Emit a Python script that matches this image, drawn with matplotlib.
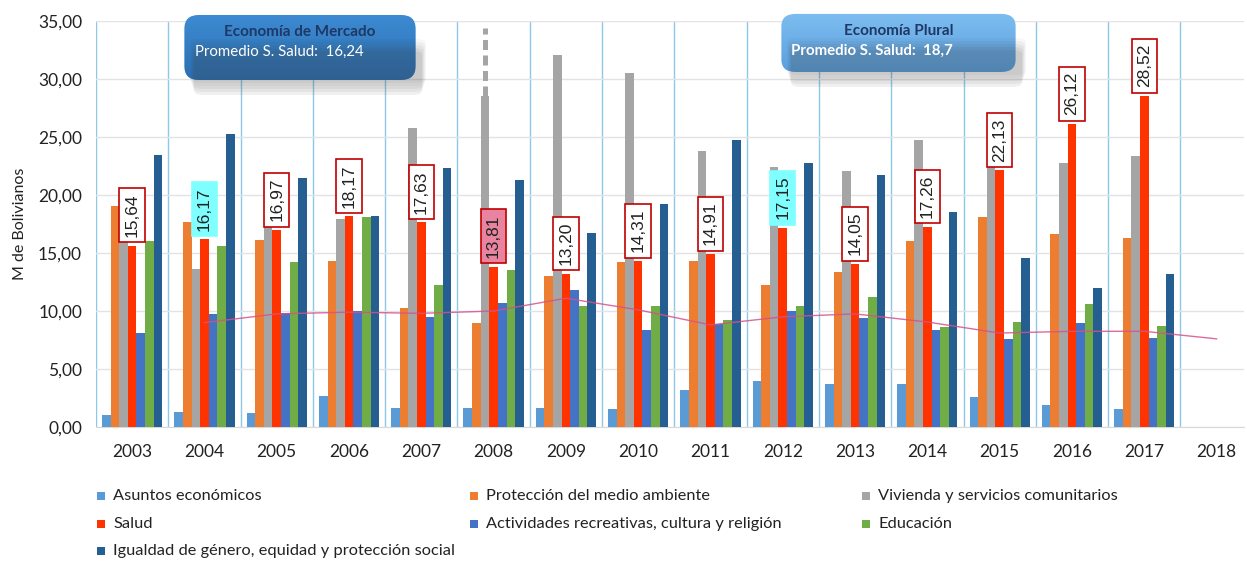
import matplotlib.pyplot as plt
import numpy as np
from matplotlib.patches import FancyBboxPatch, Rectangle
from matplotlib.ticker import FuncFormatter

# data (M de Bolivianos)
years = [str(y) for y in range(2003, 2019)]
asuntos = [1.03, 1.3, 1.2, 2.7, 1.65, 1.6, 1.6, 1.55, 3.2, 3.95, 3.7, 3.75, 2.6, 1.9, 1.55, 0]
proteccion = [19.05, 17.7, 16.1, 14.3, 10.3, 9.0, 13.0, 14.2, 14.3, 12.2, 13.4, 16.0, 18.1, 16.6, 16.3, 0]
vivienda = [16.4, 13.6, 19.7, 17.9, 25.8, 28.5, 32.1, 30.5, 23.8, 22.4, 22.1, 24.7, 24.1, 22.8, 23.4, 0]
salud = [15.64, 16.17, 16.97, 18.17, 17.63, 13.81, 13.20, 14.31, 14.91, 17.15, 14.05, 17.26, 22.13, 26.12, 28.52, 0]
recreativas = [8.1, 9.7, 9.8, 10.0, 9.5, 10.7, 11.8, 8.35, 8.9, 10.0, 9.4, 8.4, 7.6, 8.95, 7.65, 0]
educacion = [16.0, 15.6, 14.2, 18.1, 12.2, 13.5, 10.4, 10.4, 9.2, 10.4, 11.2, 8.6, 9.05, 10.6, 8.7, 0]
igualdad = [23.45, 25.3, 21.5, 18.2, 22.3, 21.3, 16.7, 19.2, 24.7, 22.8, 21.7, 18.55, 14.6, 12.0, 13.2, 0]
tendencia = [np.nan, 9.0, 9.75, 9.9, 9.8, 10.0, 11.1, 10.1, 8.8, 9.5, 9.75, 9.05, 8.1, 8.25, 8.25, 7.6]
vivienda_2008_tope = 34.4

series = [
    ('Asuntos económicos', asuntos, '#5B9BD5'),
    ('Protección del medio ambiente', proteccion, '#ED7D31'),
    ('Vivienda y servicios comunitarios', vivienda, '#A5A5A5'),
    ('Salud', salud, '#FF3300'),
    ('Actividades recreativas, cultura y religión', recreativas, '#4472C4'),
    ('Educación', educacion, '#70AD47'),
    ('Igualdad de género, equidad y protección social', igualdad, '#255E91'),
]

plt.rcParams['font.family'] = ['Lato', 'DejaVu Sans']

W, H = 1247, 566
fig = plt.figure(figsize=(W / 100, H / 100), dpi=100)
ax = fig.add_axes([96 / W, 1 - 427 / H, (1244 - 96) / W, (427 - 21) / H])

x = np.arange(len(years))
w = 0.119
for i, (name, vals, col) in enumerate(series):
    n = len([v for v in vals if v > 0])
    ax.bar(x[:n] + (i - 3) * w, vals[:n], width=w, color=col, zorder=3)

# dashed continuation of the 2008 vivienda bar
ax.plot([5 - w, 5 - w], [vivienda[5], vivienda_2008_tope], color='#A5A5A5',
        lw=3.6, ls=(0, (2.0, 1.1)), zorder=3)

# trend line
ax.plot(x, tendencia, color='#D6528A', lw=1.0, alpha=0.85, zorder=4)

# salud labels
for i, v in enumerate(salud[:15]):
    face, edge = 'white', '#C00000'
    if years[i] in ('2004', '2012'):
        face, edge = '#7FFFFF', '#7FFFFF'
    elif years[i] == '2008':
        face = '#E8849F'
    ax.text(x[i], v + 0.75, f'{v:.2f}'.replace('.', ','), rotation=90,
            ha='center', va='bottom', fontsize=12.5, family='Liberation Sans',
            color='#222222', zorder=6,
            bbox=dict(boxstyle='square,pad=0.3', fc=face, ec=edge, lw=1.2))

ax.set_xlim(-0.5, 15.38)
ax.set_ylim(0, 35)
ax.set_yticks(np.arange(0, 36, 5))
ax.yaxis.set_major_formatter(FuncFormatter(lambda v, p: f'{v:.2f}'.replace('.', ',')))
ax.set_xticks(x)
ax.set_xticklabels(years)
ax.tick_params(length=0, labelsize=12.5, colors='#222222', pad=12)
ax.tick_params(axis='y', pad=10)
ax.grid(axis='y', color='#E3E3E3', lw=1, zorder=0)
for b in np.arange(-0.5, 15, 1):
    ax.axvline(b, color='#8CC8E8', lw=1, zorder=1)
for s in ['top', 'right', 'left']:
    ax.spines[s].set_visible(False)
ax.spines['bottom'].set_color('#D9D9D9')
ax.set_ylabel('M de Bolivianos', fontsize=11.5, labelpad=8, color='#222222')

# legend, placed by hand in three columns
col_x = [97, 470, 862]
row_y = [496, 524, 551]
for k, (name, vals, col) in enumerate(series):
    cx, ry = col_x[k % 3], row_y[k // 3]
    fig.add_artist(Rectangle((cx / W, 1 - (ry + 4) / H), 8 / W, 8 / H,
                             transform=fig.transFigure, fc=col, ec='none'))
    fig.text((cx + 16) / W, 1 - ry / H, name, ha='left', va='center',
             fontsize=11.8, color='#222222')


def caja(x0, y0, x1, y1, top, bottom, title, sub, sub_x, sub_bold):
    # soft shadow below the box
    for k, a in enumerate([0.04, 0.05, 0.06, 0.07, 0.08]):
        d = 3 + k * 3
        sh = FancyBboxPatch(((x0 + 8 + k) / W, 1 - (y1 + d) / H), (x1 - x0 - 2 * k) / W,
                            (y1 - y0 - 22) / H,
                            boxstyle='round,pad=0,rounding_size=0.008',
                            transform=fig.transFigure, fc='#404040', ec='none', alpha=a)
        fig.add_artist(sh)
    bax = fig.add_axes([x0 / W, 1 - y1 / H, (x1 - x0) / W, (y1 - y0) / H])
    bax.set_axis_off()
    c0 = np.array(plt.matplotlib.colors.to_rgb(top))
    c1 = np.array(plt.matplotlib.colors.to_rgb(bottom))
    t = np.linspace(0, 1, 64)[:, None, None]
    grad = c0 * (1 - t) + c1 * t
    grad = np.repeat(grad, 2, axis=1)
    im = bax.imshow(grad, aspect='auto', extent=[0, 1, 0, 1], origin='upper')
    clip = FancyBboxPatch((0.01, 0.0), 0.98, 0.985, boxstyle='round,pad=0,rounding_size=0.06',
                          transform=bax.transAxes, fc='none', ec='none', mutation_aspect=3.5)
    bax.add_patch(clip)
    im.set_clip_path(clip)
    bax.set_xlim(0, 1)
    bax.set_ylim(0, 1)
    fig.text((x0 + x1) / 2 / W, 1 - (y0 + 18) / H, title, ha='center', va='center',
             fontsize=11, fontweight='bold', color='#1F3864')
    fig.text(sub_x / W, 1 - (y0 + 38) / H, sub, ha='left', va='center',
             fontsize=10.8, fontweight='bold' if sub_bold else 'normal', color='white')


caja(182, 14, 418, 80, '#3D8BD3', '#2A6FB2', 'Economía de Mercado',
     'Promedio S. Salud:  16,24', 195, False)
caja(779, 13, 1018, 72, '#7DBDF0', '#5A9FDD', 'Economía Plural',
     'Promedio S. Salud:  18,7', 791, True)

fig.savefig('out.png', dpi=100)
